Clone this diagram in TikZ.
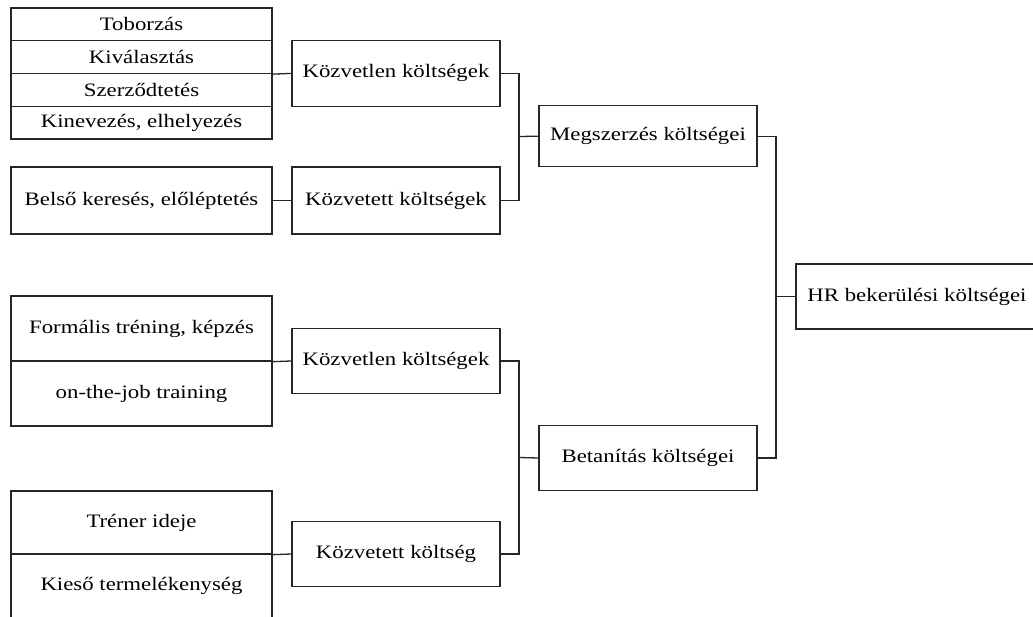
\documentclass[tikz,border=0pt]{standalone}
\usepackage{fontspec}
\setmainfont{Liberation Serif}[FakeStretch=1.2]
\begin{document}
\begin{tikzpicture}[x=1pt,y=-1pt,
  box/.style={draw=black!85, line width=1.3pt, rectangle, inner sep=0pt,
    font=\fontsize{19}{22}\selectfont, align=center},
  link/.style={draw=black!85, line width=1.3pt}]
  \useasboundingbox (0,0) rectangle (1033,616);
  \fill[white] (0,0) rectangle (1033,616);
  \clip (0,0) rectangle (1033,616);

  % acquisition: direct items
  \node[box, minimum width=261, minimum height=32.75] (tob)  at (141.5, 24.4) {Toborzás};
  \node[box, minimum width=261, minimum height=32.75] (kiv)  at (141.5, 57.1) {Kiválasztás};
  \node[box, minimum width=261, minimum height=32.75] (szer) at (141.5, 89.9) {Szerződtetés};
  \node[box, minimum width=261, minimum height=32.75] (kin)  at (141.5,122.6) {Kinevezés, elhelyezés};
  % acquisition: indirect item
  \node[box, minimum width=261, minimum height=67] (bel) at (141.5,200.5) {Belső keresés, előléptetés};

  % training items
  \node[box, minimum width=261, minimum height=65] (form) at (141.5,328.5) {Formális tréning, képzés};
  \node[box, minimum width=261, minimum height=65] (otj)  at (141.5,393.5) {on-the-job training};
  \node[box, minimum width=261, minimum height=63] (tren) at (141.5,522.5) {Tréner ideje};
  \node[box, minimum width=261, minimum height=64] (kies) at (141.5,586)   {Kieső termelékenység};

  % cost categories
  \node[box, minimum width=208, minimum height=65.5] (kzA) at (396, 73.4)  {Közvetlen költségek};
  \node[box, minimum width=208, minimum height=67]   (ktA) at (396,200.5)  {Közvetett költségek};
  \node[box, minimum width=208, minimum height=65]   (kzB) at (396,361)    {Közvetlen költségek};
  \node[box, minimum width=208, minimum height=65]   (ktB) at (396,554)    {Közvetett költség};

  % cost groups
  \node[box, minimum width=218, minimum height=61] (meg) at (648,136.2) {Megszerzés költségei};
  \node[box, minimum width=218, minimum height=65] (bet) at (648,458)   {Betanítás költségei};

  % total
  \node[box, minimum width=242, minimum height=65] (hr) at (917,296.5) {HR bekerülési költségei};

  % bracket spines
  \coordinate (jA) at (519,136.5);
  \coordinate (jB) at (519,457.5);
  \coordinate (jC) at (776,296.5);

  % item-to-category links
  \draw[link] (kiv.south east) -- (kzA.west);
  \draw[link] (bel.east) -- (ktA.west);
  \draw[link] (form.south east) -- (kzB.west);
  \draw[link] (tren.south east) -- (ktB.west);

  % category-to-group brackets
  \draw[link] (kzA.east) -| (jA) |- (ktA.east);
  \draw[link] (jA) -- (meg.west);
  \draw[link] (kzB.east) -| (jB) |- (ktB.east);
  \draw[link] (jB) -- (bet.west);

  % group-to-total bracket
  \draw[link] (meg.east) -| (jC) |- (bet.east);
  \draw[link] (jC) -- (hr.west);
\end{tikzpicture}
\end{document}
